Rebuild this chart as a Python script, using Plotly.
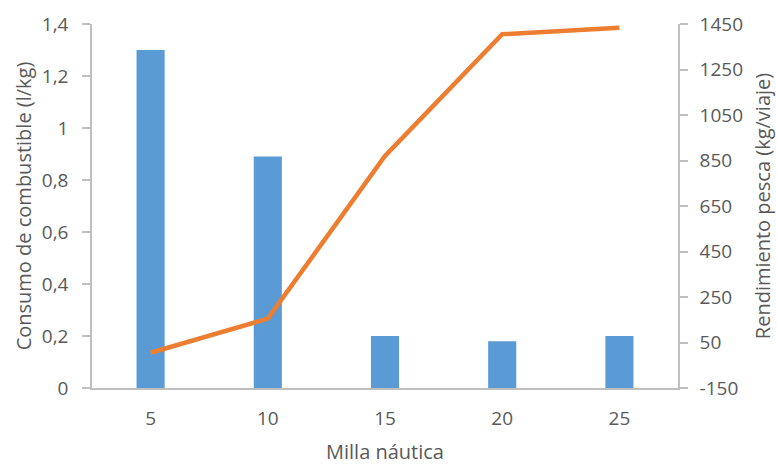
import plotly.graph_objects as go

# Nautical mile distance categories
millas = ["5", "10", "15", "20", "25"]
# Fuel consumption (l/kg) - bars, left axis
consumo = [1.3, 0.89, 0.2, 0.18, 0.2]
# Fishing yield (kg/trip) - line, right axis
rendimiento = [5, 155, 870, 1405, 1433]

# Right-axis ticks (plain hyphen for the negative value)
rend_ticks = [-150, 50, 250, 450, 650, 850, 1050, 1250, 1450]
rend_labels = ["-150", "50", "250", "450", "650", "850", "1050", "1250", "1450"]

text_color = "#595959"
axis_color = "#bfbfbf"
font_family = "Open Sans, Liberation Sans, sans-serif"
tick_size = 19
title_size = 20

fig = go.Figure()
fig.add_trace(go.Bar(
    x=millas, y=consumo, marker=dict(color="#5B9BD5", line=dict(width=0)),
    yaxis="y", name="Consumo de combustible",
))
fig.add_trace(go.Scatter(
    x=millas, y=rendimiento, mode="lines",
    line=dict(color="#ED7D31", width=4.5), yaxis="y2", name="Rendimiento pesca",
))

fig.update_layout(
    width=777, height=465,
    margin=dict(l=92, r=99, t=24, b=77, autoexpand=False),
    paper_bgcolor="white", plot_bgcolor="white",
    showlegend=False,
    separators=", ",
    bargap=0.76,
    font=dict(family=font_family, size=tick_size, color=text_color),
    xaxis=dict(
        type="category", showline=True, linecolor=axis_color, linewidth=1.5,
        showgrid=False, ticks="", tickfont=dict(size=tick_size, color=text_color),
        ticklabelstandoff=12,
        title=dict(text="Milla náutica", font=dict(size=title_size, color=text_color), standoff=20),
        automargin=False,
    ),
    yaxis=dict(
        range=[0, 1.4], dtick=0.2, tick0=0, showgrid=False, zeroline=False,
        showline=True, linecolor=axis_color, linewidth=1.5,
        ticks="outside", ticklen=8, tickcolor=axis_color, tickwidth=1.5,
        tickfont=dict(size=tick_size, color=text_color), ticklabelstandoff=10,
        title=dict(text="Consumo de combustible (l/kg)", font=dict(size=title_size, color=text_color), standoff=5),
        automargin=False,
    ),
    yaxis2=dict(
        range=[-150, 1450], tickmode="array", tickvals=rend_ticks, ticktext=rend_labels,
        overlaying="y", side="right",
        showgrid=False, zeroline=False,
        showline=True, linecolor=axis_color, linewidth=1.5,
        ticks="outside", ticklen=8, tickcolor=axis_color, tickwidth=1.5,
        tickfont=dict(size=tick_size, color=text_color), ticklabelstandoff=8,
        title=dict(text="Rendimiento pesca (kg/viaje)", font=dict(size=title_size, color=text_color), standoff=14),
        automargin=False,
    ),
)

fig.write_html("out.html")
